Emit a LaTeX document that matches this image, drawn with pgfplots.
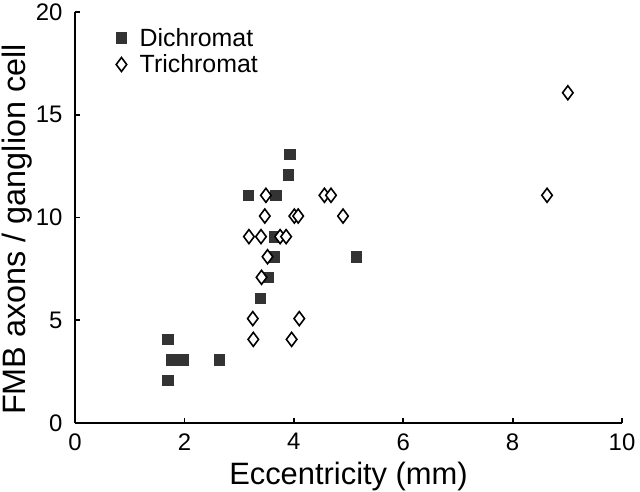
\documentclass[border=0pt]{standalone}
\usepackage{fontspec}
\setmainfont{Liberation Sans}
\usepackage{pgfplots}
\pgfplotsset{compat=1.18}
\definecolor{dk}{RGB}{51,51,51}
\begin{document}
\begin{tikzpicture}
\begin{axis}[name=ax, scale only axis, width=547bp, height=411bp,
 xmin=0, xmax=10, ymin=0, ymax=20,
 xtick={0,2,...,10}, ytick={0,5,...,20},
 axis x line*=bottom, axis y line*=left,
 tick pos=left, tick align=inside, major tick length=5bp,
 axis line style={line width=1.8bp},
 tick style={line width=1.8bp, black},
 /pgf/number format/assume math mode=true,
 ticklabel style={font=\fontsize{24}{24}\selectfont},
 xticklabel style={yshift=-7bp},
 yticklabel style={xshift=-9bp},
 xlabel={Eccentricity (mm)}, ylabel={FMB axons / ganglion cell},
 xlabel style={font=\fontsize{31}{31}\selectfont, at={(axis description cs:0.5,-0.1314)}, anchor=center},
 ylabel style={font=\fontsize{32.5}{32.5}\selectfont, at={(axis description cs:-0.106,0.4708)}, anchor=center},
 legend image code/.code={\draw[#1] plot coordinates {(0bp,0bp)};},
 legend style={at={(axis description cs:0.075,0.9635)}, anchor=north west,
   draw=none, fill=none, inner sep=0pt, row sep=5bp, column sep=12bp,
   font=\fontsize{25}{25}\selectfont,
   nodes={inner sep=1bp}},
 legend cell align=left,
]
\addplot[only marks, mark=square*, mark size=5.25bp,
  mark options={fill=dk, draw=dk, line width=0.5bp}]
 table {
x y
1.70 2.08
1.70 4.07
1.76 3.07
1.97 3.07
2.64 3.07
3.39 6.07
3.53 7.09
3.63 8.09
3.64 9.07
3.17 11.08
3.67 11.08
3.90 12.07
3.93 13.07
5.14 8.09
};
\addlegendentry{Dichromat}
\addplot[only marks, mark=diamond*, mark size=7bp,
  mark options={fill=white, draw=black, line width=1.6bp}]
 table {
x y
3.49 11.08
4.56 11.08
4.68 11.08
3.47 10.07
4.01 10.07
4.08 10.07
4.90 10.07
3.18 9.07
3.40 9.07
3.75 9.07
3.86 9.07
3.52 8.09
3.41 7.09
3.25 5.08
4.10 5.08
3.26 4.07
3.96 4.07
9.01 16.07
8.63 11.08
};
\addlegendentry{Trichromat}
\end{axis}
\pgfresetboundingbox
\useasboundingbox ([shift={(-75bp,-69bp)}]ax.south west) rectangle ([shift={(18bp,12bp)}]ax.north east);
\end{tikzpicture}
\end{document}
